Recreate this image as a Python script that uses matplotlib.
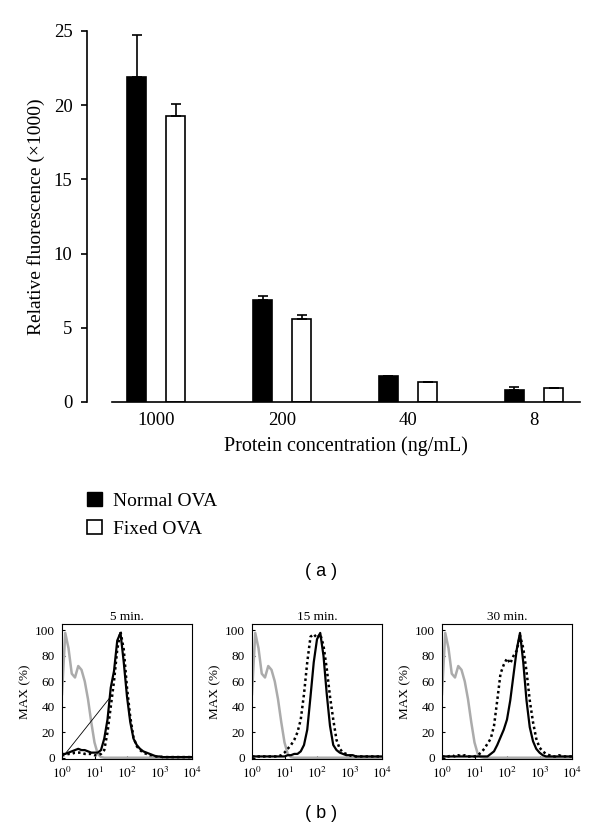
import numpy as np
import matplotlib
matplotlib.use("Agg")
import matplotlib.pyplot as plt
from matplotlib.patches import Patch

plt.rcParams['font.family'] = ['Liberation Serif', 'DejaVu Serif']
plt.rcParams['mathtext.fontset'] = 'stix'

# --- panel (a) data ---
conc = ['1000', '200', '40', '8']
normal = [21.9, 6.9, 1.75, 0.78]
normal_err = [2.8, 0.25, 0.0, 0.2]
fixed = [19.3, 5.6, 1.35, 0.92]
fixed_err = [0.8, 0.25, 0.0, 0.0]

# --- panel (b) data: histogram heights (% of max) vs log10 fluorescence ---
lx = [0.0, 0.1, 0.2, 0.3, 0.4, 0.5, 0.6, 0.7, 0.8, 0.9,
      1.0, 1.1, 1.2, 1.3, 1.4, 1.5, 1.6, 1.7, 1.8, 1.9,
      2.0, 2.1, 2.2, 2.3, 2.4, 2.5, 2.6, 2.7, 2.8, 2.9,
      3.0, 3.1, 3.2, 3.3, 3.4, 3.5, 3.6, 3.7, 3.8, 3.9, 4.0]
titles = ['5 min.', '15 min.', '30 min.']

isotype = [50, 98, 86, 66, 63, 72, 69, 60, 46, 28,
           12, 3, 0.5, 0, 0, 0, 0, 0, 0, 0,
           0, 0, 0, 0, 0, 0, 0, 0, 0, 0,
           0, 0, 0, 0, 0, 0, 0, 0, 0, 0, 0]

solid_5 = [3, 3, 4, 5, 6, 7, 6, 6, 5, 4,
           4, 4, 6, 15, 30, 55, 68, 92, 98, 75,
           48, 28, 15, 10, 7, 5, 4, 3, 2, 1,
           1, 0.5, 0.5, 0.5, 0.5, 0.5, 0.5, 0.5, 0.5, 0.5, 0.5]
dot_5 = [2, 2, 3, 3, 4, 4, 4, 3, 3, 3,
         2, 2, 3, 6, 20, 40, 60, 85, 99, 85,
         55, 32, 16, 9, 6, 4, 3, 2, 2, 1,
         1, 0.5, 0.5, 0.5, 0.5, 0.5, 0.5, 0.5, 0.5, 0.5, 0.5]

solid_15 = [1, 1, 1, 1, 1, 1, 1, 1, 1, 1,
            1, 2, 2, 3, 3, 5, 10, 22, 48, 75,
            93, 98, 80, 50, 25, 10, 6, 4, 3, 2,
            2, 2, 1, 1, 1, 1, 1, 1, 1, 1, 1]
dot_15 = [1, 1, 1, 1, 1, 1, 1, 1, 1, 2,
          4, 7, 10, 14, 20, 30, 50, 75, 95, 97,
          94, 97, 88, 70, 48, 30, 14, 7, 4, 3,
          2, 1, 1, 1, 1, 1, 1, 1, 1, 1, 1]

solid_30 = [1, 1, 1, 1, 1, 1, 1, 1, 1, 1,
            1, 1, 1, 1, 1, 3, 5, 10, 16, 22,
            30, 45, 65, 85, 98, 75, 45, 24, 13, 7,
            4, 2, 1, 1, 1, 1, 1, 1, 1, 1, 1]
dot_30 = [1, 1, 1, 2, 1, 2, 1, 2, 1, 1,
          1, 2, 4, 7, 11, 15, 25, 45, 66, 73,
          78, 74, 80, 84, 96, 86, 68, 45, 28, 15,
          8, 5, 3, 2, 1, 1, 2, 1, 1, 1, 1]

solids = [solid_5, solid_15, solid_30]
dots = [dot_5, dot_15, dot_30]

gate_x = [1.25, 34]
gate_y = [3, 49]

W, H = 600, 832
fig = plt.figure(figsize=(6, 8.32), dpi=100)

def box(l, t, r, b):
    return [l / W, 1 - b / H, (r - l) / W, (b - t) / H]

# ---------------- (a) bar chart ----------------
ax = fig.add_axes(box(87, 31, 580, 402))
pos = np.arange(len(conc))
bw = 0.15
ax.bar(pos - 0.155, normal, bw, color='black', edgecolor='black', lw=1.2,
       yerr=[np.zeros(4), normal_err], capsize=3.5,
       error_kw=dict(elinewidth=1.2, capthick=1.2, ecolor='black'))
ax.bar(pos + 0.155, fixed, bw, color='white', edgecolor='black', lw=1.2,
       yerr=[np.zeros(4), fixed_err], capsize=3.5,
       error_kw=dict(elinewidth=1.2, capthick=1.2, ecolor='black'))
ax.set_xlim(-0.548, 3.365)
ax.set_ylim(0, 25)
ax.spines['top'].set_visible(False)
ax.spines['right'].set_visible(False)
ax.spines['bottom'].set_bounds(-0.349, 3.365)
ax.spines['left'].set_linewidth(1.2)
ax.spines['bottom'].set_linewidth(1.2)
ax.set_yticks([0, 5, 10, 15, 20, 25])
ax.set_xticks(pos)
ax.set_xticklabels(conc)
ax.tick_params(axis='x', length=0, pad=7, labelsize=13.5)
ax.tick_params(axis='y', length=4.5, width=1.2, pad=6, labelsize=13.5)
ax.set_xlabel('Protein concentration (ng/mL)', fontsize=14.5, labelpad=7)
ax.xaxis.set_label_coords(0.525, -0.093)
ax.set_ylabel('Relative fluorescence (×1000)', fontsize=14, labelpad=6)

handles = [Patch(facecolor='black', edgecolor='black'),
           Patch(facecolor='white', edgecolor='black', lw=1.2)]
fig.legend(handles, ['Normal OVA', 'Fixed OVA'], loc='upper left',
           bbox_to_anchor=(87 / W, 1 - 492 / H), frameon=False, fontsize=14,
           handlelength=0.75, handleheight=0.75, handletextpad=0.6,
           labelspacing=0.5, borderpad=0, borderaxespad=0)

fig.text(321 / W, 1 - 572 / H, '( a )', family='Liberation Sans', fontsize=13,
         ha='center', va='center')

# ---------------- (b) histograms ----------------
lefts = [62, 252, 442]
xs = np.power(10.0, lx)
for i in range(3):
    a = fig.add_axes(box(lefts[i], 624, lefts[i] + 130, 759))
    a.plot(xs, isotype, color='#ababab', lw=1.8)
    a.plot(xs, dots[i], color='black', lw=1.8, ls=(0, (1, 1.2)))
    a.plot(xs, solids[i], color='black', lw=1.6)
    if i == 0:
        a.plot(gate_x, gate_y, color='black', lw=0.6)
    a.set_xscale('log')
    a.set_xlim(1, 1e4)
    a.set_ylim(-1, 105)
    a.set_xticks([1, 10, 100, 1000, 10000])
    a.set_xticklabels([r'$10^{0}$', r'$10^{1}$', r'$10^{2}$', r'$10^{3}$', r'$10^{4}$'])
    a.xaxis.set_minor_locator(matplotlib.ticker.NullLocator())
    a.set_yticks([0, 20, 40, 60, 80, 100])
    a.tick_params(direction='in', length=2, width=0.8, labelsize=9.5)
    a.tick_params(axis='x', pad=5)
    a.tick_params(axis='y', pad=5)
    for s in a.spines.values():
        s.set_linewidth(0.8)
    a.set_title(titles[i], fontsize=9.5, pad=3)
    a.set_ylabel('MAX (%)', fontsize=9.5, labelpad=3)

fig.text(321 / W, 1 - 813 / H, '( b )', family='Liberation Sans', fontsize=13,
         ha='center', va='center')

fig.savefig('out.png', dpi=100)
